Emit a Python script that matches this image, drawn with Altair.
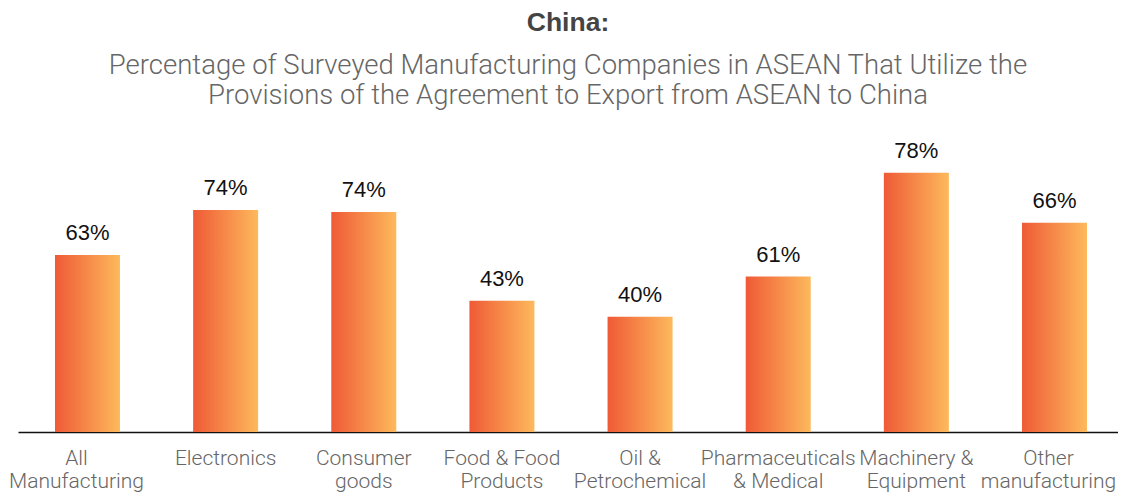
import altair as alt
import pandas as pd

categories = [
    "All\nManufacturing",
    "Electronics",
    "Consumer\ngoods",
    "Food & Food\nProducts",
    "Oil &\nPetrochemical",
    "Pharmaceuticals\n& Medical",
    "Machinery &\nEquipment",
    "Other\nmanufacturing",
]
# bar lengths as drawn in the picture (same units as the 78% bar)
bar_heights = [53.3, 66.9, 66.3, 39.5, 34.7, 46.8, 78.1, 63.0]
# value labels printed above the bars
pct_labels = ["63%", "74%", "74%", "43%", "40%", "61%", "78%", "66%"]

df = pd.DataFrame({"cat": categories, "h": bar_heights, "lbl": pct_labels})

grad = alt.Gradient(
    gradient="linear",
    stops=[alt.GradientStop(color="#EF5A36", offset=0),
           alt.GradientStop(color="#FDB95C", offset=1)],
    x1=0, x2=1, y1=0, y2=0,
)

x = alt.X(
    "cat:N", sort=categories, title=None,
    scale=alt.Scale(paddingInner=0.5295, paddingOuter=0.2461, align=0.544),
    axis=alt.Axis(
        labelAngle=0, ticks=False, domain=True, domainColor="#111111", domainWidth=1.6,
        labelExpr="split(datum.label, '\\n')", labelFont="Roboto", labelFontWeight=300,
        labelFontSize=21, labelLineHeight=23, labelColor="#666666", labelPadding=15,
        labelBaseline="top", labelLimit=0, labelOverlap=False,
        labelOffset={"expr": "datum.index < 0.01 ? -11 : (datum.index > 0.99 ? -6 : 0)"},
    ),
)
y = alt.Y("h:Q", scale=alt.Scale(domain=[0, 100]), axis=None)

bars = alt.Chart(df).mark_bar(color=grad).encode(x=x, y=y)
text = alt.Chart(df).mark_text(
    baseline="alphabetic", dy=-15, fontSize=22, font="Liberation Sans", color="#111111"
).encode(x=alt.X("cat:N", sort=categories), y="h:Q", text="lbl:N")

chart = alt.layer(bars, text).properties(
    width=1100, height=332,
    autosize=alt.AutoSizeParams(type="none"),
    padding={"left": 10, "top": 92, "right": 0, "bottom": 62},
    title=alt.TitleParams(
        text="China:",
        subtitle=["Percentage of Surveyed Manufacturing Companies in ASEAN That Utilize the",
                  "Provisions of the Agreement to Export from ASEAN to China"],
        anchor="middle", frame="group", orient="top",
        font="Liberation Sans", fontSize=26.5, fontWeight="bold", color="#444444",
        subtitleFont="Roboto", subtitleFontWeight=300, subtitleFontSize=27.5,
        subtitleColor="#666666", subtitleLineHeight=30, subtitlePadding=15, offset=-9,
    ),
).configure_view(stroke=None)

chart.save("out.html", embed_options={"renderer": "svg", "actions": False})
